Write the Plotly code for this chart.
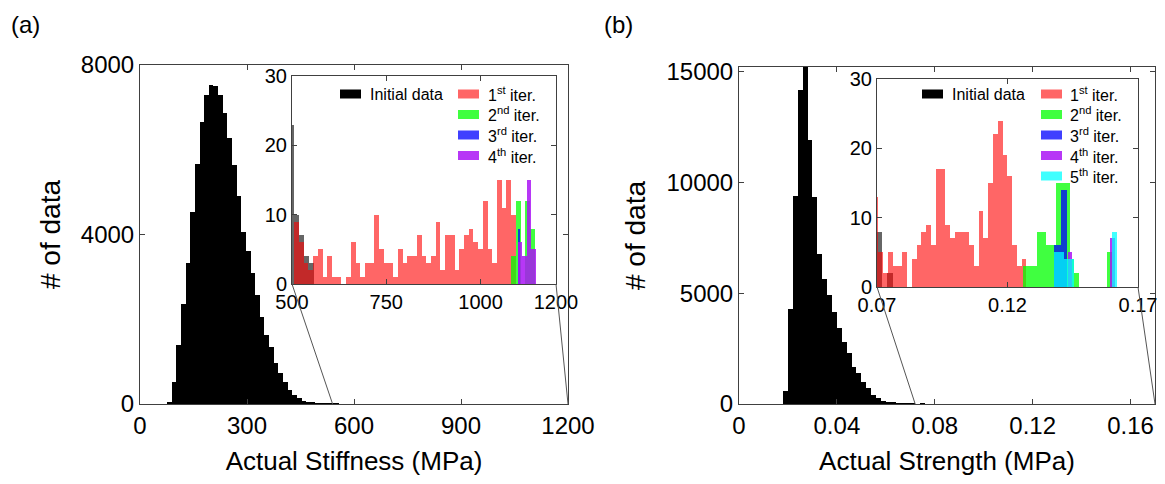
import plotly.graph_objects as go

# page is 1165x484; the html body adds an 8px margin, so the figure is drawn 8px in
# and only ~1157px of width is visible
PAGE_W, PAGE_H, OFF = 1165, 484, 8
W, H = PAGE_W - OFF, PAGE_H - 2 * OFF
FONT = "Liberation Sans, Arial, sans-serif"
AX = "#404040"

# ---------------- data: (a) Actual Stiffness ----------------
stiff_init_start, stiff_init_width = 76.0, 13.0
stiff_init_counts = [55, 510, 1385, 2350, 3335, 4540, 5655, 6660, 7290, 7530, 7500, 7290,
                     6860, 6270, 5640, 4910, 4050, 3600, 3080, 2570, 2060, 1630, 1350, 960,
                     720, 530, 330, 210, 130, 80, 50, 35, 23, 10, 7, 4, 3]
stiff_it1_start, stiff_it1_width = 506.0, 12.5
stiff_it1_counts = [9, 6, 3, 2, 4, 5, 1, 4, 1, 1, 0, 1, 6, 3, 1, 3, 3, 10, 5, 3, 3, 1, 5, 3,
                    4, 4, 7, 4, 3, 4, 9, 2, 7, 7, 2, 5, 7, 8, 6, 5, 12, 5, 3, 15, 11, 15, 10]
stiff_it2_start, stiff_it2_width = 1080.0, 13.0
stiff_it2_counts = [4, 12, 0, 12, 8]
stiff_it3_start, stiff_it3_width = 1099.0, 6.0
stiff_it3_counts = [8]
stiff_it4_start, stiff_it4_width = 1099.0, 12.0
stiff_it4_counts = [6, 4, 15, 5]
stiff_zoom_window = [540, 1200]

# ---------------- data: (b) Actual Strength ----------------
str_init_start, str_init_width = 0.018, 0.002
str_init_counts = [600, 4300, 9400, 14160, 17500, 11900, 9330, 6780, 5650, 4900, 4150, 3450,
                   2800, 2280, 1680, 1380, 1000, 700, 400, 250, 150, 100, 60, 40, 30, 23, 8, 0, 2]
str_it1_start, str_it1_width = 0.0687, 0.00183
str_it1_counts = [13, 5, 2, 5, 3, 3, 5, 0, 4, 6, 8, 9, 6, 17, 17, 9, 7, 8, 8, 8, 6, 3, 11, 7,
                  15, 22, 24, 19, 16, 6, 3, 4]
str_it2_start, str_it2_width = 0.1258, 0.0018
str_it2_counts = [3, 3, 3, 8, 8, 6, 6, 15, 15, 15, 4, 2, 0, 0, 0, 0, 0, 0, 5]
str_it3_start, str_it3_width = 0.1379, 0.0025
str_it3_counts = [6, 14]
str_it4_start, str_it4_width = 0.1430, 0.0018
str_it4_counts = [5, 0, 0, 0, 0, 0, 0, 0, 0, 7]
str_it5_start, str_it5_width = 0.1379, 0.00185
str_it5_counts = [5, 5, 4, 4, 0, 0, 0, 0, 0, 0, 0, 0, 8]
str_zoom_window = [0.072, 0.17]

initial_name = "Initial data"
iter_names = ["1<sup>st</sup> iter.", "2<sup>nd</sup> iter.", "3<sup>rd</sup> iter.",
              "4<sup>th</sup> iter.", "5<sup>th</sup> iter."]
iter_colors = ["rgba(255,0,0,0.6)", "rgba(0,255,0,0.75)", "rgba(0,0,255,0.75)",
               "rgba(170,20,245,0.85)", "rgba(0,255,255,0.75)"]

fig = go.Figure()


def add_hist(name, start, width, counts, color, xa, ya):
    xs = [start + width * (i + 0.5) for i in range(len(counts))]
    fig.add_trace(go.Bar(x=xs, y=counts, width=width, name=name,
                         marker=dict(color=color, line=dict(width=0)),
                         xaxis=xa, yaxis=ya, showlegend=False, hoverinfo="skip"))


# (a) main + inset
add_hist(initial_name, stiff_init_start, stiff_init_width, stiff_init_counts, "black", "x", "y")
add_hist(initial_name, stiff_init_start, stiff_init_width, stiff_init_counts, "rgba(0,0,0,0.6)", "x2", "y2")
stiff_iters = [(stiff_it1_start, stiff_it1_width, stiff_it1_counts),
               (stiff_it2_start, stiff_it2_width, stiff_it2_counts),
               (stiff_it3_start, stiff_it3_width, stiff_it3_counts),
               (stiff_it4_start, stiff_it4_width, stiff_it4_counts)]
for i, (s, w, c) in enumerate(stiff_iters):
    add_hist(iter_names[i], s, w, c, iter_colors[i], "x2", "y2")

# (b) main + inset
add_hist(initial_name, str_init_start, str_init_width, str_init_counts, "black", "x3", "y3")
add_hist(initial_name, str_init_start, str_init_width, str_init_counts, "rgba(0,0,0,0.6)", "x4", "y4")
str_iters = [(str_it1_start, str_it1_width, str_it1_counts),
             (str_it2_start, str_it2_width, str_it2_counts),
             (str_it3_start, str_it3_width, str_it3_counts),
             (str_it4_start, str_it4_width, str_it4_counts),
             (str_it5_start, str_it5_width, str_it5_counts)]
for i, (s, w, c) in enumerate(str_iters):
    add_hist(iter_names[i], s, w, c, iter_colors[i], "x4", "y4")


# page-pixel -> paper conversions
def fx(xp):
    return (xp - OFF) / W


def fy(yp):
    return 1 - (yp - OFF) / H


def dx(a, b):
    return [fx(a), fx(b)]


def dy(top, bottom):
    return [fy(bottom), fy(top)]


def ax_style(size):
    return dict(showline=True, linecolor=AX, linewidth=1, mirror="ticks", ticks="inside",
                ticklen=5, tickcolor=AX, showgrid=False, zeroline=False, fixedrange=True,
                automargin=False,
                tickfont=dict(size=size, color="black", family=FONT))


# plot boxes in page pixels: (left, right, top, bottom)
geo = {
    "main_a": (140, 568, 65, 404), "ins_a": (292, 556, 76, 284),
    "main_b": (739, 1155, 67, 404), "ins_b": (877, 1138, 79, 287),
}

fig.update_layout(
    width=W, height=H, margin=dict(l=0, r=0, t=0, b=0, autoexpand=False),
    paper_bgcolor="white", plot_bgcolor="white", barmode="overlay", bargap=0,
    font=dict(family=FONT, color="black"), showlegend=False,
    xaxis=dict(domain=dx(*geo["main_a"][:2]), range=[0, 1200], tickvals=[0, 300, 600, 900, 1200],
               ticktext=["0", "300", "600", "900", "1200"],
               anchor="y", title=dict(text="Actual Stiffness (MPa)", font=dict(size=26), standoff=16),
               **ax_style(24)),
    yaxis=dict(domain=dy(*geo["main_a"][2:]), range=[0, 8000], tickvals=[0, 4000, 8000],
               ticktext=["0", "4000", "8000"],
               anchor="x", title=dict(text="# of data", font=dict(size=28), standoff=12),
               **ax_style(24)),
    xaxis2=dict(domain=dx(*geo["ins_a"][:2]), range=[500, 1200], tickvals=[500, 750, 1000, 1200],
                ticktext=["500", "750", "1000", "1200"], anchor="y2", **ax_style(20)),
    yaxis2=dict(domain=dy(*geo["ins_a"][2:]), range=[0, 30], tickvals=[0, 10, 20, 30],
                ticktext=["0", "10", "20", "30"], anchor="x2", **ax_style(20)),
    xaxis3=dict(domain=dx(*geo["main_b"][:2]), range=[0, 0.17],
                tickvals=[0, 0.04, 0.08, 0.12, 0.16], ticktext=["0", "0.04", "0.08", "0.12", "0.16"],
                anchor="y3", title=dict(text="Actual Strength (MPa)", font=dict(size=26), standoff=16),
                **ax_style(24)),
    yaxis3=dict(domain=dy(*geo["main_b"][2:]), range=[0, 15200], tickvals=[0, 5000, 10000, 15000],
                ticktext=["0", "5000", "10000", "15000"],
                anchor="x3", title=dict(text="# of data", font=dict(size=28), standoff=12),
                **ax_style(24)),
    xaxis4=dict(domain=dx(*geo["ins_b"][:2]), range=[0.07, 0.17], tickvals=[0.07, 0.12, 0.17],
                ticktext=["0.07", "0.12", "0.17"], anchor="y4", **ax_style(20)),
    yaxis4=dict(domain=dy(*geo["ins_b"][2:]), range=[0, 30], tickvals=[0, 10, 20, 30],
                ticktext=["0", "10", "20", "30"], anchor="x4", **ax_style(20)),
)


# legends (two columns, drawn as swatch + text)
def legend_entry(sw_left, text_left, yc, name, color):
    fig.add_shape(type="rect", xref="paper", yref="paper",
                  x0=fx(sw_left), x1=fx(sw_left + 21), y0=fy(yc + 4.5), y1=fy(yc - 4.5),
                  fillcolor=color, line=dict(width=0), layer="above")
    fig.add_annotation(text=name, xref="paper", yref="paper", x=fx(text_left), y=fy(yc),
                       xanchor="left", yanchor="middle", showarrow=False,
                       font=dict(size=16, family=FONT, color="black"))


def legend_block(init_sw, init_tx, col_sw, col_tx, y0, n_iter):
    legend_entry(init_sw, init_tx, y0, initial_name, "black")
    for i in range(n_iter):
        legend_entry(col_sw, col_tx, y0 + 20.5 * i, iter_names[i], iter_colors[i])


legend_block(340, 368, 458, 486, 94, len(stiff_iters))
legend_block(922, 950, 1041, 1068, 94, len(str_iters))

# panel labels
for lab, xp in [("(a)", 9), ("(b)", 602)]:
    fig.add_annotation(text=lab, xref="paper", yref="paper", x=fx(xp), y=fy(25),
                       xanchor="left", yanchor="middle", showarrow=False,
                       font=dict(size=24, family=FONT, color="black"))


# zoom connector lines from inset bottom corners to the main x-axis
def connectors(main_key, ins_key, main_range, window):
    mx0, mx1, mt, mb = geo[main_key]
    ix0, ix1, it, ib = geo[ins_key]
    for ix, val in [(ix0, window[0]), (ix1, window[1])]:
        px = mx0 + (val - main_range[0]) / (main_range[1] - main_range[0]) * (mx1 - mx0)
        fig.add_shape(type="line", xref="paper", yref="paper",
                      x0=fx(ix), y0=fy(ib), x1=fx(px), y1=fy(mb),
                      line=dict(color="#555555", width=1))


connectors("main_a", "ins_a", [0, 1200], stiff_zoom_window)
connectors("main_b", "ins_b", [0, 0.17], str_zoom_window)

fig.write_html("out.html")
